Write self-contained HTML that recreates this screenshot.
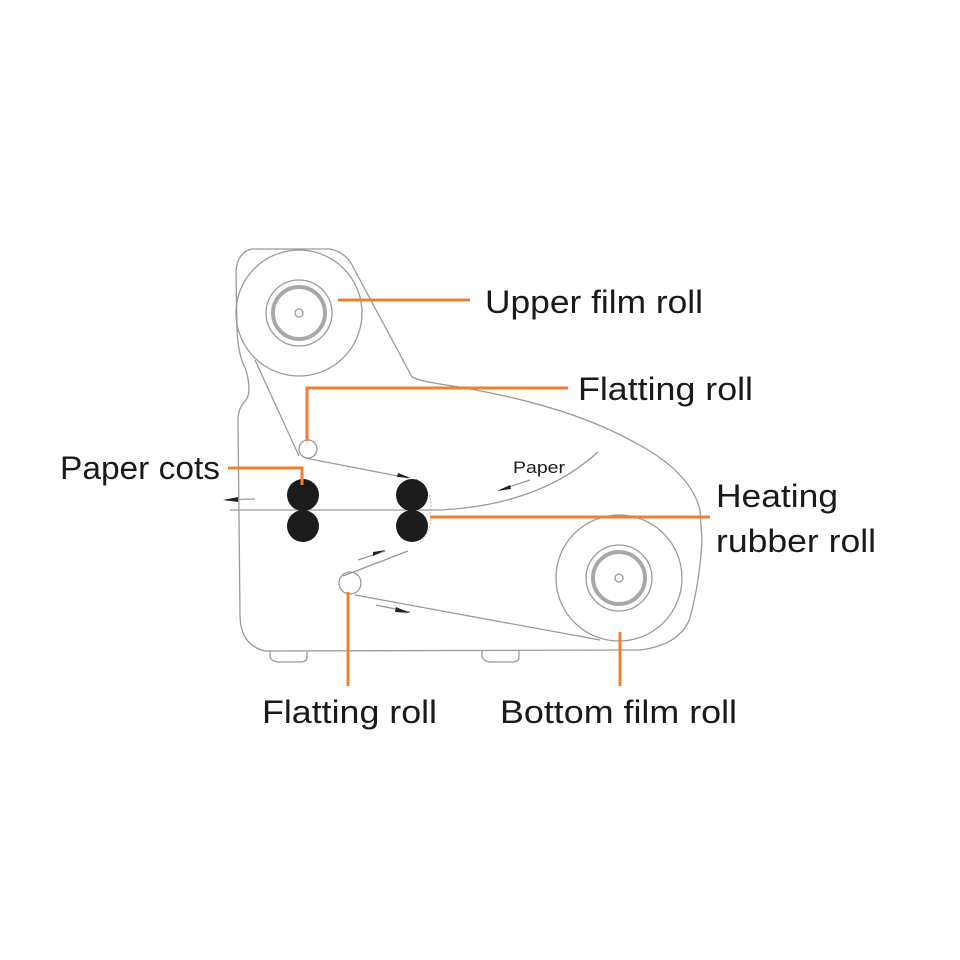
<!DOCTYPE html>
<html><head><meta charset="utf-8"><style>
html,body{margin:0;padding:0;background:#fff}
svg{display:block}
text{font-family:"Liberation Sans","DejaVu Sans",sans-serif;fill:#1a1a1a}
</style></head><body>
<svg width="960" height="960" viewBox="0 0 960 960" xmlns="http://www.w3.org/2000/svg">
<g fill="none" stroke="#9a9a9a" stroke-width="1.3">
<path d="M252,249 L330,249 Q345,252 352,265 L412,377 Q420,381 440,384 Q560,402 630,440 Q690,470 700,510 L702,540 Q700,580 690,618 Q680,645 640,650 L265,651 Q240,645 240,615 L238,420 Q238,408 246,400 Q252,392 246,370 Q238,355 237,330 L236,270 Q238,252 252,249 Z"/>
<path d="M270,651 L270,657 Q272,662 280,662 L300,662 Q307,662 307,657 L307,651"/>
<path d="M482,651 L482,657 Q484,662 492,662 L512,662 Q519,662 519,657 L519,651"/>
<circle cx="299" cy="313" r="63"/>
<circle cx="299" cy="313" r="33"/>
<circle cx="299" cy="313" r="26" stroke="#a8a8a8" stroke-width="4"/>
<circle cx="299" cy="313" r="4"/>
<circle cx="619" cy="578" r="63"/>
<circle cx="619" cy="578" r="33"/>
<circle cx="619" cy="578" r="26" stroke="#a8a8a8" stroke-width="4"/>
<circle cx="619" cy="578" r="4"/>
<circle cx="308" cy="449" r="9"/>
<circle cx="350" cy="583" r="11"/>
<path d="M255,360 L299,456"/>
<path d="M305,458 L408,478"/>
<path d="M408,551 L343,576"/>
<path d="M355,595 L600,640"/>
<path d="M230,510 L440,510 Q540,505 598,452"/>
<path d="M225,500 L255,499"/><path d="M358,560 L385,551"/><path d="M376,605 L410,612"/><path d="M500,490 L530,480"/>
</g>
<g fill="#222">
<polygon points="223,500 238,497 238,502"/>
<polygon points="398,473 411,478 397,477"/>
<polygon points="386,550 373,552 373,556"/>
<polygon points="410,613 396,607 395,612"/>
<polygon points="497,491 510,485 511,489"/>
</g>
<g stroke="#aaa" stroke-dasharray="1.5,2" fill="none"><path d="M416,479 Q435,494 430,512 Q434,530 418,544"/></g>
<g fill="#1c1c1c">
<circle cx="303" cy="495" r="16"/><circle cx="303" cy="526" r="16"/>
<circle cx="412" cy="495" r="16"/><circle cx="412" cy="526" r="16"/>
</g>
<text x="513" y="473" font-size="17" textLength="52" lengthAdjust="spacingAndGlyphs">Paper</text>
<g stroke="#f08030" stroke-width="3" fill="none">
<path d="M338,300 L470,300"/>
<path d="M307,441 L307,388 L568,388"/>
<path d="M228,468 L302,468 L302,485"/>
<path d="M430,517 L710,517"/>
<path d="M348,592 L348,686"/>
<path d="M620,632 L620,686"/>
</g>
<g font-size="32">
<text x="485" y="313" textLength="218" lengthAdjust="spacingAndGlyphs">Upper film roll</text>
<text x="578" y="400" textLength="175" lengthAdjust="spacingAndGlyphs">Flatting roll</text>
<text x="60" y="479" textLength="160" lengthAdjust="spacingAndGlyphs">Paper cots</text>
<text x="716" y="507" textLength="122" lengthAdjust="spacingAndGlyphs">Heating</text>
<text x="716" y="552" textLength="160" lengthAdjust="spacingAndGlyphs">rubber roll</text>
<text x="262" y="723" textLength="175" lengthAdjust="spacingAndGlyphs">Flatting roll</text>
<text x="500" y="723" textLength="237" lengthAdjust="spacingAndGlyphs">Bottom film roll</text>
</g>
</svg>
</body></html>
